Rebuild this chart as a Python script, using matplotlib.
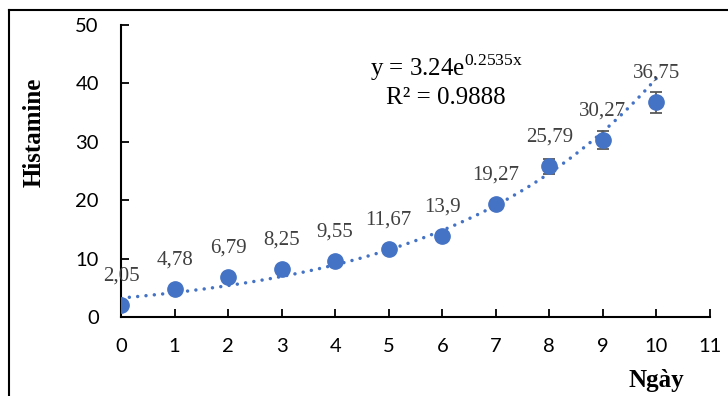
import matplotlib
matplotlib.use("Agg")
import matplotlib.pyplot as plt
from matplotlib.lines import Line2D
import numpy as np

days = [0, 1, 2, 3, 4, 5, 6, 7, 8, 9, 10]
histamine = [2.05, 4.78, 6.79, 8.25, 9.55, 11.67, 13.9, 19.27, 25.79, 30.27, 36.75]
errors = [0.3, 0.4, 0.5, 0.5, 0.5, 0.6, 0.7, 0.8, 1.3, 1.5, 1.75]
point_labels = ["2,05", "4,78", "6,79", "8,25", "9,55", "11,67", "13,9",
                "19,27", "25,79", "30,27", "36,75"]
x_ticks = list(range(0, 12))
y_ticks = [0, 10, 20, 30, 40, 50]

W, H = 728, 396
BLUE = "#4472C4"
SERIF = "Liberation Serif"

plt.rcParams["mathtext.fontset"] = "custom"
plt.rcParams["mathtext.rm"] = SERIF

fig = plt.figure(figsize=(W / 100, H / 100), dpi=100)
ax = fig.add_axes([121 / W, 1 - 317 / H, (710 - 121) / W, (317 - 25) / H])

# exponential trendline (log-linear least squares, like Excel)
b, ln_a = np.polyfit(days, np.log(histamine), 1)
xs = np.linspace(days[0], days[-1], 200)
ax.plot(xs, np.exp(ln_a) * np.exp(b * xs), color=BLUE, lw=2.5,
        linestyle=(0, (0.01, 2.4)), dash_capstyle="round", zorder=2)

ax.errorbar(days, histamine, yerr=errors, fmt="none", ecolor="#595959",
            elinewidth=1.3, capsize=4.5, capthick=1.3, zorder=3)
ax.plot(days, histamine, "o", color=BLUE, markersize=11, zorder=4)

for x, y, s in zip(days, histamine, point_labels):
    ax.annotate(s, (x, y), xytext=(0, 21), textcoords="offset points",
                ha="center", va="center", fontsize=15, color="#404040",
                family=SERIF, zorder=5)

ax.set_xlim(0, 11)
ax.set_ylim(0, 50)
ax.set_xticks(x_ticks)
ax.set_yticks(y_ticks)
for s in ["top", "right"]:
    ax.spines[s].set_visible(False)
for s in ["left", "bottom"]:
    ax.spines[s].set_linewidth(1.5)
ax.tick_params(axis="both", direction="in", length=6, width=1.3,
               labelsize=14.5)
ax.tick_params(axis="y", pad=16)
ax.tick_params(axis="x", pad=15)
for lab in ax.get_xticklabels() + ax.get_yticklabels():
    lab.set_family("Lato")
ax.patch.set_visible(False)

fig.text(446 / W, 1 - 68 / H, r"y = 3.24e$^{\mathrm{0.2535x}}$", ha="center",
         va="center", fontsize=18, family=SERIF)
fig.text(446 / W, 1 - 98 / H, "R² = 0.9888", ha="center", va="center",
         fontsize=18, family=SERIF)

fig.text(34 / W, 1 - 132 / H, "Histamine", rotation=90, ha="center",
         va="center", fontsize=18, fontweight="bold", family=SERIF)
fig.text(656 / W, 1 - 380 / H, "Ngày", ha="center", va="center",
         fontsize=18, fontweight="bold", family=SERIF)

# outer frame (left and top edges visible)
fig.add_artist(Line2D([9 / W, 9 / W], [0, 1 - 10 / H], transform=fig.transFigure,
                      color="black", lw=1.5))
fig.add_artist(Line2D([9 / W, 1], [1 - 10 / H, 1 - 10 / H],
                      transform=fig.transFigure, color="black", lw=1.5))

fig.savefig("out.png", dpi=100)
